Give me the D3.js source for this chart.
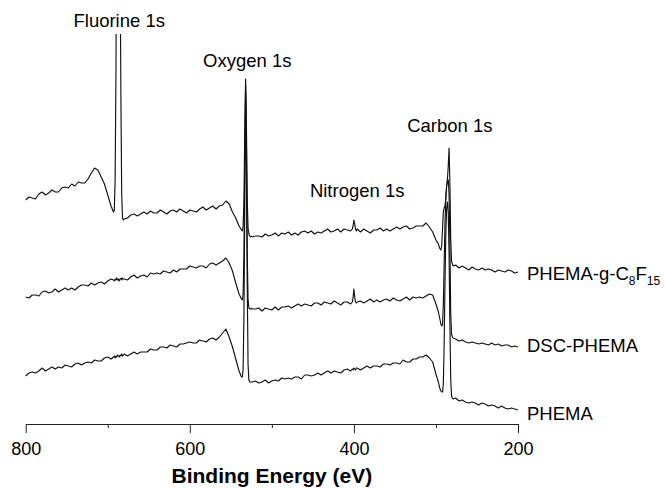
<!DOCTYPE html>
<html><head><meta charset="utf-8">
<script src="https://cdn.jsdelivr.net/npm/d3@7"></script>
<style>
body{margin:0;background:#fff}
svg{display:block}
text{font-family:"Liberation Sans",Arial,Helvetica,sans-serif;fill:#000}
</style>
</head><body>
<svg id="chart" width="665" height="489"></svg>
<script>
// ---------------- DATA ----------------
// Coarse energy grid (eV): 800, 796, ..., 200 ; fine 1 eV windows around peaks
const coarseEnergy = d3.range(800, 199, -4);
const fineEnergyF = d3.range(693, 680, -1);
const fineEnergyO = d3.range(537, 524, -1);
const fineEnergyN = d3.range(403, 396, -1);
const fineEnergyC = d3.range(297, 278, -1);

const seriesNames = ["PHEMA-g-C8F15", "DSC-PHEMA", "PHEMA"];
const peakLabels = ["Fluorine 1s", "Oxygen 1s", "Nitrogen 1s", "Carbon 1s"];
const peakLabelEnergy = [686, 530, 396, 283];
const majorTicks = [800, 600, 400, 200];
const minorTicks = [700, 500, 300];
const xTitle = "Binding Energy (eV)";

// intensity (a.u., stacked) on the coarse grid
const fluoroCoarse = [
  224,227,226,225,230,232,229,231,234,232,
  232,236,237,236,240,238,242,241,241,245,
  251,256,254,247,240,229,218,214,780,330,
  205,206,209,210,208,210,212,210,213,211,
  211,214,212,210,213,214,212,215,213,211,
  214,213,212,215,217,214,216,218,215,218,
  219,223,220,212,206,198,193,345,190,187,
  188,188,187,190,188,189,191,188,191,190,
  192,189,191,189,192,193,191,193,190,192,
  191,193,195,192,193,195,192,195,194,193,
  204,195,192,195,193,191,194,194,196,193,
  195,193,195,197,195,197,198,195,196,198,
  198,198,201,197,192,184,177,195,228,268,
  160,159,156,158,156,154,157,155,154,156,
  154,155,154,152,154,153,152,154,153,151,
  152];
const fluoroF = [212,214,245,350,560,780,850,720,480,330,230,206,204];
const fluoroO = [194,193,198,225,290,345,300,225,196,190,188,187,188];
const fluoroN = [194,195,198,204,200,195,193];
const fluoroC = [180,177,175,174,178,195,212,216,218,226,238,245,258,276,240,185,163,160,158];

const dscCoarse = [
  127,126,129,129,128,132,133,131,132,135,
  132,134,136,134,136,134,137,139,139,138,
  141,139,141,142,140,143,145,143,144,146,
  145,144,147,149,146,148,149,147,151,150,
  151,150,153,152,151,154,152,155,155,155,
  158,157,156,158,158,156,160,161,159,161,
  163,166,161,153,141,130,124,339,116,115,
  115,116,113,116,115,114,117,114,117,117,
  118,116,118,120,118,120,119,118,121,121,
  119,122,121,120,123,121,119,122,122,120,
  135,122,123,121,123,125,122,124,122,124,
  125,123,126,124,123,125,127,124,127,126,
  127,126,128,130,129,120,108,99,225,230,
  87,85,83,84,82,81,82,81,80,81,
  80,79,81,79,80,78,79,79,77,78,
  77];
const dscF = [144,143,145,144,146,144,145,143,145,146,144,146,145];
const dscO = [125,124,130,170,260,339,280,170,125,116,115,115,116];
const dscN = [121,122,126,135,127,122,121];
const dscC = [112,108,104,100,98,99,120,160,200,225,238,243,244,230,180,110,90,87,86];

const phemaCoarse = [
  48,51,52,51,53,56,53,55,57,55,
  57,56,59,58,57,60,61,59,61,62,
  61,64,63,63,66,67,65,68,68,69,
  70,68,70,72,70,72,72,72,75,74,
  74,77,77,76,79,78,77,80,80,81,
  82,81,81,84,83,82,85,86,84,87,
  91,95,87,77,65,53,47,332,44,42,
  43,41,42,44,41,43,44,43,46,45,
  46,45,47,47,45,49,49,48,49,51,
  49,51,53,51,53,52,51,54,55,53,
  55,56,54,56,58,56,58,58,57,60,
  60,59,61,61,60,64,62,62,65,65,
  67,67,69,66,62,50,38,32,190,170,
  26,26,23,24,22,21,22,21,19,21,
  20,18,19,18,16,18,16,15,16,15,
  14];
const phemaF = [67,68,66,68,67,69,68,67,69,68,70,68,69];
const phemaO = [47,47,55,110,220,332,260,140,60,44,42,42,42];
const phemaN = [54,55,54,56,55,54,56];
const phemaC = [42,38,35,33,32,32,40,80,140,190,215,222,212,170,100,45,28,26,25];

// ---------------- BUILD ----------------
function buildSpectrum(coarse, f, o, n, c) {
  const m = new Map();
  coarseEnergy.forEach((e, i) => m.set(e, coarse[i]));
  [[fineEnergyF, f], [fineEnergyO, o], [fineEnergyN, n], [fineEnergyC, c]]
    .forEach(([es, vs]) => es.forEach((e, i) => m.set(e, vs[i])));
  return Array.from(m, ([e, v]) => ({ e, v })).sort((a, b) => b.e - a.e);
}
const spectra = [
  buildSpectrum(fluoroCoarse, fluoroF, fluoroO, fluoroN, fluoroC),
  buildSpectrum(dscCoarse, dscF, dscO, dscN, dscC),
  buildSpectrum(phemaCoarse, phemaF, phemaO, phemaN, phemaC)
];

// ---------------- LAYOUT ----------------
const svg = d3.select("#chart");
const axisY = 424;
const x = d3.scaleLinear().domain([800, 200]).range([25.7, 518]);
const y = d3.scaleLinear().domain([0, 400]).range([axisY, 24]);

svg.append("defs").append("clipPath").attr("id", "plotclip")
  .append("rect").attr("x", 0).attr("y", y(390)).attr("width", 665).attr("height", axisY - y(390));

const line = d3.line().x(d => x(d.e)).y(d => y(d.v));
svg.append("g").attr("clip-path", "url(#plotclip)")
  .selectAll("path").data(spectra).join("path")
  .attr("d", line)
  .attr("fill", "none")
  .attr("stroke", "#111")
  .attr("stroke-width", 1.15)
  .attr("stroke-linejoin", "round");

// axis
const gAxis = svg.append("g").attr("transform", `translate(0,${axisY})`);
gAxis.call(d3.axisBottom(x).tickValues(majorTicks).tickSize(9).tickSizeOuter(0)
  .tickPadding(9).tickFormat(d3.format("d")));
gAxis.append("g").call(d3.axisBottom(x).tickValues(minorTicks).tickSize(4).tickFormat(""))
  .call(g => g.select(".domain").remove())
  .call(g => g.selectAll("text").remove());
gAxis.selectAll("path,line").attr("stroke", "#222").attr("stroke-width", 1);
gAxis.selectAll("text").attr("font-size", 18).attr("fill", "#000")
  .style("font-family", '"Liberation Sans",Arial,sans-serif');

svg.append("text").attr("x", (x(800) + x(200)) / 2).attr("y", 483)
  .attr("text-anchor", "middle").attr("font-size", 21).attr("font-weight", "bold")
  .text(xTitle);

// peak annotations
const peakLabelY = [27, 67, 197, 132];
svg.selectAll("text.peak").data(peakLabels).join("text").attr("class", "peak")
  .attr("x", (d, i) => x(peakLabelEnergy[i]))
  .attr("y", (d, i) => peakLabelY[i])
  .attr("text-anchor", "middle").attr("font-size", 18.5)
  .text(d => d);

// series labels (with chemical subscripts)
const seriesLabelY = [280, 352, 420];
seriesNames.forEach((name, i) => {
  const t = svg.append("text").attr("x", x(200) + 9).attr("y", seriesLabelY[i]).attr("font-size", 18.5);
  const parts = name.split(/(\d+)/).filter(s => s.length);
  let shift = 0;
  parts.forEach(p => {
    if (/^\d+$/.test(p)) {
      t.append("tspan").attr("font-size", 12).attr("dy", 4.5 - shift).text(p);
      shift = 4.5;
    } else {
      t.append("tspan").attr("dy", -shift).text(p);
      shift = 0;
    }
  });
});
</script>
</body></html>
